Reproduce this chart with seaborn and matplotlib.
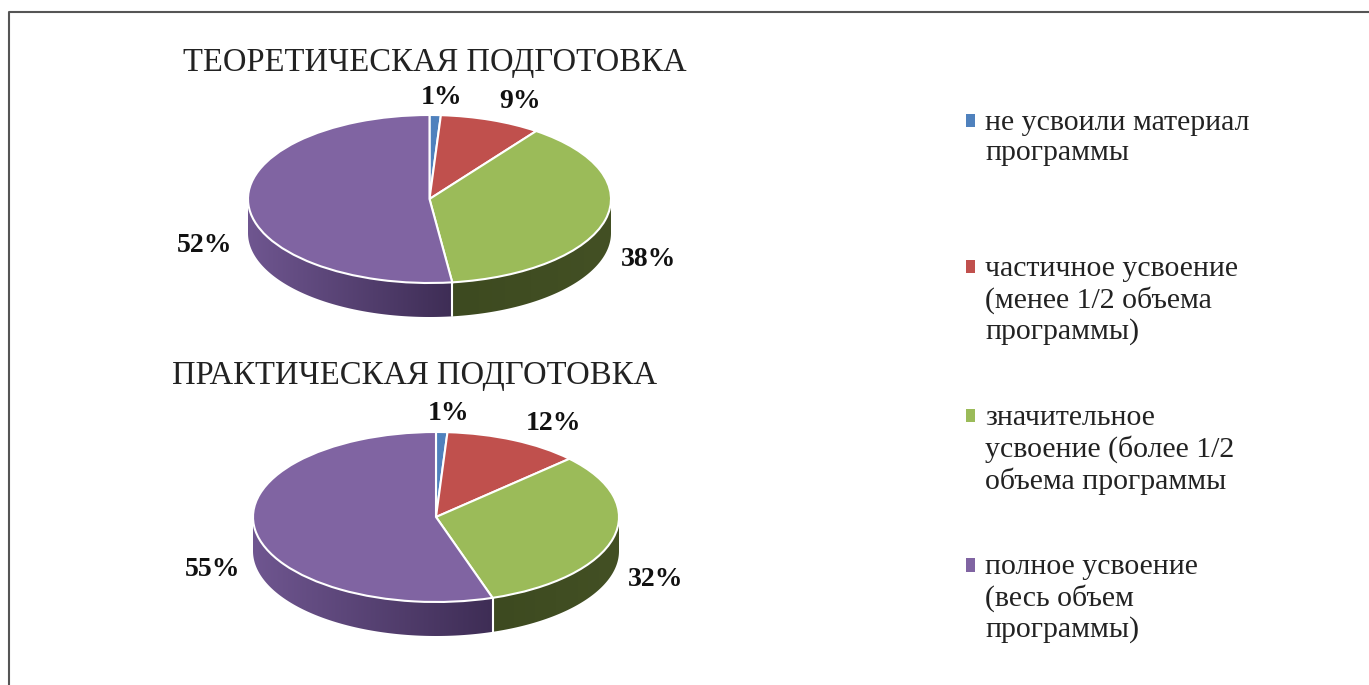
import numpy as np
import seaborn as sns
import matplotlib
matplotlib.use('Agg')
import matplotlib.pyplot as plt
from matplotlib.colors import LinearSegmentedColormap
from matplotlib.legend_handler import HandlerPatch
from matplotlib.patches import Polygon, Rectangle

# Data
legend_labels = [
    'не усвоили материал\nпрограммы\n',
    'частичное усвоение\n(менее 1/2 объема\nпрограммы)',
    'значительное\nусвоение (более 1/2\nобъема программы',
    'полное усвоение\n(весь объем\nпрограммы)',
]
theory_title = 'ТЕОРЕТИЧЕСКАЯ ПОДГОТОВКА'
theory_values = [1, 9, 38, 52]
practice_title = 'ПРАКТИЧЕСКАЯ ПОДГОТОВКА'
practice_values = [1, 12, 32, 55]

colors = sns.color_palette(['#4f81bd', '#c0504d', '#9bbb59', '#8064a2'])
# wall shading, left colour then right colour
wall_colors = [('#3a6190', '#2a4668'), ('#8f3b39', '#6b2c2a'),
               ('#3d4a20', '#435024'), ('#6f5690', '#3e2d55')]

W, H = 1369, 685
DEPTH = 34

sns.set_theme(style='white')
plt.rcParams['font.family'] = ['Liberation Serif', 'DejaVu Serif']

fig = plt.figure(figsize=(W / 100, H / 100), dpi=100)


def draw_pie(values, title, cx, cy, rx, ry, label_pos, title_xy):
    # axes box holds the cap plus the wall under it, unit circle = ellipse in px
    pad = 1.03
    depth = DEPTH / ry
    left = cx - rx * pad
    bottom = H - (cy + ry * pad + DEPTH)
    ax = fig.add_axes([left / W, bottom / H, 2 * rx * pad / W,
                       (2 * ry * pad + DEPTH) / H])
    wedges, _ = ax.pie(values, colors=colors, startangle=90, counterclock=False,
                       wedgeprops=dict(edgecolor='white', linewidth=1.5, zorder=5))
    ax.set_aspect('auto')

    # side wall, only for the front half of the disc
    start = 0.0
    total = sum(values)
    for i, v in enumerate(values):
        end = start + v / total * 2 * np.pi
        # angle clockwise from the top; the front is 90..270 deg
        a0, a1 = max(start, np.pi / 2), min(end, 3 * np.pi / 2)
        if a1 > a0:
            t = np.linspace(a0, a1, 120)
            x, y = np.sin(t), np.cos(t)
            poly = np.vstack([np.c_[x, y], np.c_[x[::-1], y[::-1] - depth]])
            patch = Polygon(poly, closed=True, facecolor='none', edgecolor='none')
            ax.add_patch(patch)
            cmap = LinearSegmentedColormap.from_list('wall', wall_colors[i])
            im = ax.imshow(np.linspace(0, 1, 256).reshape(1, -1), cmap=cmap, aspect='auto',
                           extent=[x.min(), x.max(), -1 - depth, 0.2], zorder=2)
            im.set_clip_path(patch)
            # white seam on the slice edge
            if a1 == end:
                ax.plot([x[-1], x[-1]], [y[-1], y[-1] - depth], color='white', lw=1.5, zorder=3)
        start = end

    ax.set_xlim(-pad, pad)
    ax.set_ylim(-pad - depth, pad)
    ax.axis('off')

    for v, (px, py) in zip(values, label_pos):
        fig.text(px / W, 1 - py / H, f'{v}%', ha='center', va='center',
                 fontsize=20, fontweight='bold', color='#111111')
    fig.text(title_xy[0] / W, 1 - title_xy[1] / H, title, ha='center', va='center',
             fontsize=23.5, color='#222222')
    return wedges


wedges = draw_pie(theory_values, theory_title, 429.5, 199, 181.5, 84,
                  [(442, 98), (520, 102), (649, 260), (205, 245)], (434.5, 63))
draw_pie(practice_values, practice_title, 436, 517, 183, 85,
         [(449, 414), (553, 423), (656, 579), (213, 570)], (414.5, 376))


def first_line_square(legend, orig_handle, xdescent, ydescent, width, height, fontsize):
    # small square next to the first text line, not the middle of the label
    return Rectangle((-xdescent, -ydescent - 3), width, height)


leg = fig.legend(wedges, legend_labels, loc='upper left', bbox_to_anchor=(966 / W, 1 - 110 / H),
                 frameon=False, fontsize=21.5, labelcolor='#222222', handlelength=0.3, handleheight=0.3,
                 handletextpad=0.34, labelspacing=2.0, borderpad=0, borderaxespad=0,
                 handler_map={w: HandlerPatch(patch_func=first_line_square) for w in wedges})
for txt in leg.get_texts():
    txt.set_linespacing(1.2)
for handle in leg.legend_handles:
    handle.set_linewidth(0)
# rows of the legend box: handle goes to the top of each label
for column in leg.get_children()[0].get_children()[1].get_children():
    for row in column.get_children():
        row.align = 'top'

# picture frame, only left and top are visible in the scan
frame = fig.add_axes([0, 0, 1, 1], facecolor='none')
frame.set_xlim(0, W)
frame.set_ylim(H, 0)
frame.axis('off')
frame.plot([9, 9, W], [H, 12, 12], color='#555555', lw=1.5)

fig.savefig('out.png', dpi=100)
